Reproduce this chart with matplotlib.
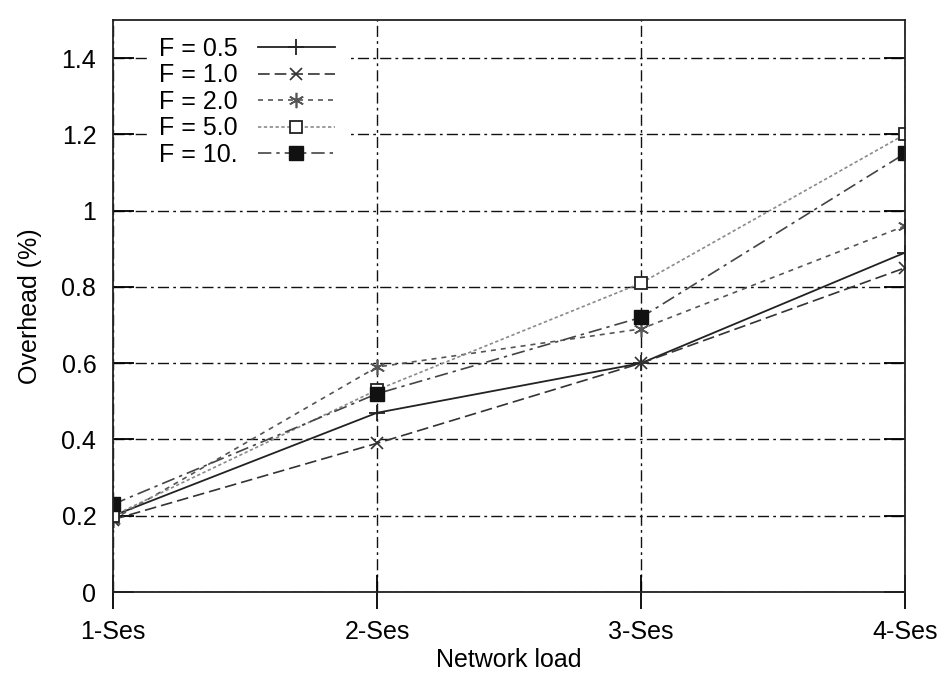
import matplotlib.pyplot as plt

plt.rcParams['font.family'] = ['Liberation Sans', 'DejaVu Sans']

# network load levels and overhead per F value
loads = ['1-Ses', '2-Ses', '3-Ses', '4-Ses']
f05 = [0.20, 0.47, 0.60, 0.89]
f10 = [0.19, 0.39, 0.60, 0.85]
f20 = [0.19, 0.59, 0.69, 0.96]
f50 = [0.20, 0.53, 0.81, 1.20]
f100 = [0.23, 0.52, 0.72, 1.15]

x = list(range(len(loads)))

fig = plt.figure(figsize=(9.39, 6.78), dpi=100)
ax = fig.add_axes([0.1203, 0.1268, 0.8435, 0.8437])

ax.plot(x, f05, color='#222222', lw=1.3, ls='-', marker='+', ms=12, mew=1.3,
        label='F = 0.5')
ax.plot(x, f10, color='#333333', lw=1.2, ls=(0, (7, 3)), marker='x', ms=8, mew=1.2,
        label='F = 1.0')
ax.plot(x, f20, color='#555555', lw=1.2, ls=(0, (3, 3)), marker=(6, 2, 0), ms=11, mew=1.2,
        label='F = 2.0')
ax.plot(x, f50, color='#8a8a8a', lw=1.2, ls=(0, (2, 1.5)), marker='s', ms=9,
        mfc='white', mec='#222222', mew=1.3, label='F = 5.0')
ax.plot(x, f100, color='#444444', lw=1.2, ls=(0, (8, 3, 2, 3)), marker='s', ms=10,
        mfc='#111111', mec='#111111', label='F = 10.')

ax.set_xlim(0, 3)
ax.set_ylim(0, 1.5)
ax.set_xticks(x)
ax.set_xticklabels(loads)
ax.set_yticks([0, 0.2, 0.4, 0.6, 0.8, 1, 1.2, 1.4])
ax.set_yticklabels(['0', '0.2', '0.4', '0.6', '0.8', '1', '1.2', '1.4'])

ax.grid(True, color='#111111', ls=(0, (8, 3, 2, 3)), lw=1.0)
ax.set_axisbelow(True)
for s in ax.spines.values():
    s.set_linewidth(1.3)
    s.set_color('#222222')

ax.tick_params(axis='x', direction='inout', length=24, width=1.3, labelsize=18, pad=8)
ax.tick_params(axis='y', direction='in', length=15, width=1.3, labelsize=18,
               right=True, pad=12)

ax.set_xlabel('Network load', fontsize=18, labelpad=3)
ax.set_ylabel('Overhead (%)', fontsize=18, labelpad=14)

leg = ax.legend(loc='upper left', bbox_to_anchor=(0.044, 0.99), borderaxespad=0,
                frameon=True, markerfirst=False, fontsize=18, handlelength=3.1,
                labelspacing=0.1, borderpad=0.45, handletextpad=0.8,
                fancybox=False)
leg.get_frame().set_edgecolor('white')
leg.get_frame().set_facecolor('white')
leg.get_frame().set_alpha(1)

fig.savefig('out.png', dpi=100)
